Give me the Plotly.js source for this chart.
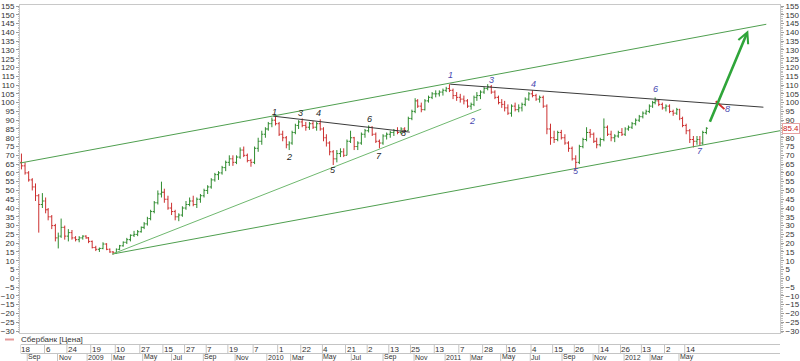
<!DOCTYPE html>
<html>
<head>
<meta charset="utf-8">
<script src="https://cdn.plot.ly/plotly-3.0.1.min.js"></script>
<style>html,body{margin:0;padding:0;background:#fff;}#chart{width:800px;height:361px;}</style>
</head>
<body>
<div id="chart"></div>
<script>
// ---- DATA (weekly OHLC; null = exchange closed that week) ----
const seriesName = 'Сбербанк [Цена]';
const firstWeek = '2008-08-20';   // weekly bars, one per Wednesday
const openVals = [66,64,60,56,52,47,42,44,39,35,30,23,24,29,24,26,23,22,23,24,
 null,
 23,21,17.5,16.5,17,19.5,16.5,15,14.5,16.5,18.5,20.5,22,24.5,25,26.5,29,31,34,38,43,48,49,45,40,38,35,36,40,42,44,42,45,47,50,52,56,59,60,63,66,68,66,69,73,70,67,66,74,78,82,
 null,
 85,88,90,88,82,80,76,77,83,87,89,87,86,88,86,88,85,80,77,72,68,71,72,70,78,80,75,77,82,84,86,82,78,77,81,82,83,84,83,85,84,91,95,101,98,96,101,103,105,105,106,
 null,
 107,108,107,104,103,102,101,98,99,103,104,106,108,109,106,103,100,99,97,94,98,96,97,99,102,105,104,102,103,98,85,80,79,83,80,77,74,68,66,75,79,83,82,78,76,79,86,82,80,81,83,
 null,
 82,85,86,88,90,92,94,95,98,100,101,99,97,98,95,94,96,91,87,84,79,78,79,77,83];
const highVals = [71,66,61,57,54,48,48.5,46,40,36,31,26,34,30,28,27.5,24,24,24.5,24.5,
 null,
 23.5,21.5,18.5,17.5,20.5,20,17,15.5,17,19,21,23,25,27,27.5,29.5,32,35,39,44,50,55,51,47,43,39,37,41,44,46,47,46,48,51,53,57,60,61,64,67,70,70,70,74.5,75,71,68,75,80,84,86,
 null,
 89,91.5,93,89,84,81,78,84,88,90,91,89,89,89.5,89,90.5,86,82,78,73,73,74,74,79,84,80.5,78,83,85,87,86.5,83,79,82,83,84,85,86,86,86,92,96,102.5,102,100,102,104,106,107,107,108,
 null,
 109,110.5,108,106,105,104,102,100,104,106,107,109,110.5,110,107,104,102,101,99,99,100,99,100,103,106,107,105,104,104,99,88,84,84,84.5,82,78,75,70,76,80,86,85,83,80,80,91,87,84,82,84,85.5,
 null,
 86,87,89,91,93,95,96,99,101,103,102,100,99,99,96,97,96.5,92,88,85,81,81,81,84,86];
const lowVals = [62,59,55,50,44,26,40,37,33,28,21,17,23,22,21,22,21,20.5,22,22.5,
 null,
 20,17,15.5,15,16.5,16,14.5,13.5,14,16,18,19.5,21,23.5,24,26,28,30,33,37,42,46,43,39,36,33,32.5,35,39,41,41,40,43,46,48,51,55,56,59,61,64,64,65,68,69,66,63.5,65,72,76,80,
 null,
 84,86,87,81,78,74,73,76,82,85,86,84,84.5,85,84,84,78,75,70,64.5,66,69,69,70,77,73,73,76,80,83,81,77,74,76,79,80,81,82,82,83,84,90,94,97,94.5,95.5,100,102,103,103.5,104,
 null,
 106,106,102,101,100,99,97,96,98,101,102,105,107,105,102,99,97,95,93,92,95,94.5,95,98,101,103,101,100,97,82,76,77,78,79,76,72,67,61.5,65,74,78,80,77,74,75,78,81,78,77.5,80,81,
 null,
 81,84,85,87,89,91,93,94,97,99,98,96,95,94,92.5,93,90,86,82,77,74.5,76,75.5,76,82];
const closeVals = [64,60,56,52,47,42,44,39,35,30,23,24,29,24,26,23,22,23,24,23,
 null,
 21,17.5,16.5,17,19.5,16.5,15,14.5,16.5,18.5,20.5,22,24.5,25,26.5,29,31,34,38,43,48,49,45,40,38,35,36,40,42,44,42,45,47,50,52,56,59,60,63,66,68,66,69,73,70,67,66,74,78,82,85,
 null,
 88,90,88,82,80,76,77,83,87,89,87,86,88,86,88,85,80,77,72,68,71,72,70,78,80,75,77,82,84,86,82,78,77,81,82,83,84,83,85,84,91,95,101,98,96,101,103,105,105,106,107,
 null,
 108,107,104,103,102,101,98,99,103,104,106,108,109,106,103,100,99,97,94,98,96,97,99,102,105,104,102,103,98,85,80,79,83,80,77,74,68,66,75,79,83,82,78,76,79,86,82,80,81,83,82,
 null,
 85,86,88,90,92,94,95,98,100,101,99,97,98,95,94,96,91,87,84,79,78,79,77,83,85.4];
const lastPrice = 85.4;

// exchange holidays / halts (removed from the trading-time axis)
const holidays = ['2008-09-18','2008-10-09','2008-10-10','2008-11-03','2008-11-04',
 '2009-01-01','2009-01-02','2009-01-05','2009-01-06','2009-01-07','2009-01-08','2009-01-09','2009-02-23','2009-03-09','2009-05-01','2009-05-11','2009-06-12',
 '2010-01-01','2010-01-04','2010-01-05','2010-01-06','2010-01-07','2010-01-08','2010-02-22','2010-02-23','2010-03-08','2010-05-03','2010-05-10','2010-06-14','2010-11-04','2010-11-05',
 '2011-01-03','2011-01-04','2011-01-05','2011-01-06','2011-01-07','2011-01-10','2011-03-07','2011-03-08','2011-05-02','2011-05-09','2011-06-13','2011-11-04',
 '2012-01-02','2012-01-03','2012-01-04','2012-01-05','2012-01-06','2012-01-09','2012-02-23','2012-03-08','2012-03-09','2012-04-30','2012-05-01','2012-06-11','2012-06-12'];

// bottom axis labels
const dayTickDates = ['2008-08-18','2008-10-06','2008-11-24','2009-01-19','2009-03-10','2009-04-27','2009-06-15','2009-07-27','2009-09-07','2009-10-19','2009-12-07','2010-02-01','2010-03-22','2010-05-04','2010-06-21','2010-08-02','2010-09-13','2010-10-25','2010-12-13','2011-02-07','2011-03-28','2011-05-16','2011-07-04','2011-08-15','2011-09-26','2011-11-14','2011-12-26','2012-02-13','2012-04-02','2012-05-14'];
const dayTickText = ['18','6','24','19','10','27','15','27','7','19','7','1','22','4','21','2','13','25','13','7','28','16','4','15','26','14','26','13','2','14'];
const monthTickDates = ['2008-09-01','2008-11-05','2009-01-12','2009-03-02','2009-05-04','2009-07-01','2009-09-01','2009-11-02','2010-01-11','2010-03-01','2010-05-04','2010-07-01','2010-09-01','2010-11-01','2011-01-11','2011-03-01','2011-05-03','2011-07-01','2011-09-01','2011-11-01','2012-01-10','2012-03-01','2012-05-02'];
const monthTickText = ['Sep','Nov','2009','Mar','May','Jul','Sep','Nov','2010','Mar','May','Jul','Sep','Nov','2011','Mar','May','Jul','Sep','Nov','2012','Mar','May'];

// hand-drawn analysis lines [date0, value0, date1, value1]
const channelLines = [
  ['2008-08-18', 65.6, '2012-10-22', 144.6],
  ['2009-03-03', 13.8, '2012-11-16', 84.0]
];
const supportLines = [ ['2009-03-03', 13.8, '2011-03-24', 96.3] ];
const resistanceLines = [
  ['2010-01-22', 92.3, '2010-10-22', 83.2],
  ['2011-01-20', 110.5, '2012-10-16', 97.4]
];
const projectionLines = [ ['2012-07-16', 100.8, '2012-08-01', 96.3] ];
const forecastArrow = ['2012-07-03', 88.3, '2012-09-17', 141.2];

// wave counts
const waveAText = ['1','2','3','4','5','6','7','8'];
const waveADates = ['2010-01-25','2010-02-25','2010-03-22','2010-04-23','2010-05-26','2010-08-05','2010-08-25','2010-10-11'];
const waveAValues = [94.6,69.0,94.0,94.0,61.6,90.6,69.5,82.6];
const waveBText = ['1','2','3','4','5','6','7','8'];
const waveBDates = ['2011-01-20','2011-03-03','2011-04-13','2011-07-08','2011-09-28','2012-03-15','2012-06-14','2012-08-07'];
const waveBValues = [115.6,89.5,112.8,110.5,61.1,107.7,72.4,96.3];

// ---- BUILD ----
function weekDates(start, n) {
  const d0 = Date.parse(start + 'T00:00:00Z'), out = [];
  for (let i = 0; i < n; i++) out.push(new Date(d0 + i * 7 * 86400000).toISOString().slice(0, 10));
  return out;
}
const weeks = weekDates(firstWeek, closeVals.length);

const FONT = 'Liberation Sans, Arial, sans-serif';
const Y_RANGE = [-31.14, 155.57];
const X_RANGE = ['2008-08-18', '2012-11-16'];

// pixel layout of bottom strip (paper coords)
const PT = 5, PB = 333, PH = PB - PT;
const py = p => (PB - p) / PH;
const ROW1_TOP = 344.5, ROW_MID = 353.5, ROW2_BOT = 361;

const shapes = [];
const lineShape = (l, color, width) => ({type:'line', xref:'x', yref:'y', x0:l[0], y0:l[1], x1:l[2], y1:l[3], line:{color:color, width:width}});
channelLines.forEach(l => shapes.push(lineShape(l, '#4f9f4f', 1)));
supportLines.forEach(l => shapes.push(lineShape(l, '#6fb86f', 1)));
resistanceLines.forEach(l => shapes.push(lineShape(l, '#3a3a3a', 1)));
projectionLines.forEach(l => shapes.push(lineShape(l, '#d42a2a', 2)));

// bottom strip frame
const stripColor = '#c4c4c4';
shapes.push({type:'line', xref:'paper', yref:'paper', x0:0.0013, x1:1, y0:py(ROW1_TOP), y1:py(ROW1_TOP), line:{color:stripColor, width:1}});
shapes.push({type:'line', xref:'paper', yref:'paper', x0:0.0013, x1:1, y0:py(ROW_MID), y1:py(ROW_MID), line:{color:stripColor, width:1}});
dayTickDates.forEach(d => shapes.push({type:'line', xref:'x', yref:'paper', x0:d, x1:d, y0:py(ROW1_TOP), y1:py(ROW_MID), line:{color:stripColor, width:1}}));
monthTickDates.forEach(d => shapes.push({type:'line', xref:'x', yref:'paper', x0:d, x1:d, y0:py(ROW_MID), y1:py(ROW2_BOT), line:{color:stripColor, width:1}}));
// legend swatch
shapes.push({type:'line', xref:'paper', yref:'paper', x0:-15/760, x1:-6/760, y0:py(339.5), y1:py(339.5), line:{color:'#e59a9a', width:2}});

const annotations = [];
dayTickText.forEach((t, i) => annotations.push({xref:'x', yref:'paper', x:dayTickDates[i], y:py(349), text:t, showarrow:false, xanchor:'left', yanchor:'middle', xshift:0, borderpad:0, font:{family:FONT, size:8, color:'#333'}}));
monthTickText.forEach((t, i) => annotations.push({xref:'x', yref:'paper', x:monthTickDates[i], y:py(357.2), text:t, showarrow:false, xanchor:'left', yanchor:'middle', xshift:0, borderpad:0, font:{family:FONT, size:7, color:'#333'}}));
annotations.push({xref:'paper', yref:'paper', x:0, y:py(339.5), text:seriesName, showarrow:false, xanchor:'left', yanchor:'middle', borderpad:0, font:{family:FONT, size:8, color:'#333'}});
waveAText.forEach((t, i) => annotations.push({xref:'x', yref:'y', x:waveADates[i], y:waveAValues[i], text:'<i>' + t + '</i>', showarrow:false, font:{family:FONT, size:9, color:'#1e1e1e'}}));
waveBText.forEach((t, i) => annotations.push({xref:'x', yref:'y', x:waveBDates[i], y:waveBValues[i], text:'<i>' + t + '</i>', showarrow:false, font:{family:FONT, size:9, color:'#4848b0'}}));
annotations.push({xref:'x', yref:'y', axref:'x', ayref:'y', x:forecastArrow[2], y:forecastArrow[3], ax:forecastArrow[0], ay:forecastArrow[1], text:'', showarrow:true, arrowhead:5, arrowsize:0.8, arrowwidth:2.6, arrowcolor:'#2fa53a'});
annotations.push({xref:'paper', yref:'y', x:1, y:lastPrice, text:String(lastPrice), showarrow:false, xanchor:'left', yanchor:'middle', xshift:2, font:{family:FONT, size:8, color:'#cc2222'}, bgcolor:'#ffffff', bordercolor:'#e6a3a3', borderwidth:1, borderpad:0});

const traces = [
  {type:'ohlc', x:weeks, open:openVals, high:highVals, low:lowVals, close:closeVals, name:seriesName,
   increasing:{line:{color:'#2e8b2e', width:1}}, decreasing:{line:{color:'#cc3030', width:1}}, tickwidth:0.3, hoverinfo:'skip'},
  {type:'scatter', x:[], y:[], yaxis:'y2', hoverinfo:'skip', showlegend:false}
];

const yCommon = {range:Y_RANGE, dtick:5, tick0:0, ticks:'outside', ticklen:3, tickcolor:'#9a9a9a',
  showgrid:false, zeroline:false, tickfont:{family:FONT, size:8, color:'#333'},
  minor:{ticks:'outside', dtick:1, ticklen:1.5, tickcolor:'#c0c0c0'}};

const layout = {
  width:800, height:361,
  margin:{l:20, r:20, t:PT, b:361 - PB, pad:0},
  paper_bgcolor:'#ffffff', plot_bgcolor:'#ffffff',
  showlegend:false,
  xaxis:{type:'date', range:X_RANGE, rangebreaks:[{bounds:['sat','mon']}, {values:holidays}],
    rangeslider:{visible:false}, showticklabels:false, ticks:'', showgrid:false, zeroline:false,
    showline:true, mirror:true, linecolor:'#c8c8c8', linewidth:1},
  yaxis:Object.assign({side:'left', showline:true, mirror:true, linecolor:'#c8c8c8', linewidth:1}, yCommon),
  yaxis2:Object.assign({side:'right', overlaying:'y', anchor:'x', showline:false}, yCommon),
  shapes:shapes,
  annotations:annotations
};

Plotly.newPlot('chart', traces, layout, {displayModeBar:false, staticPlot:true});
</script>
</body>
</html>
